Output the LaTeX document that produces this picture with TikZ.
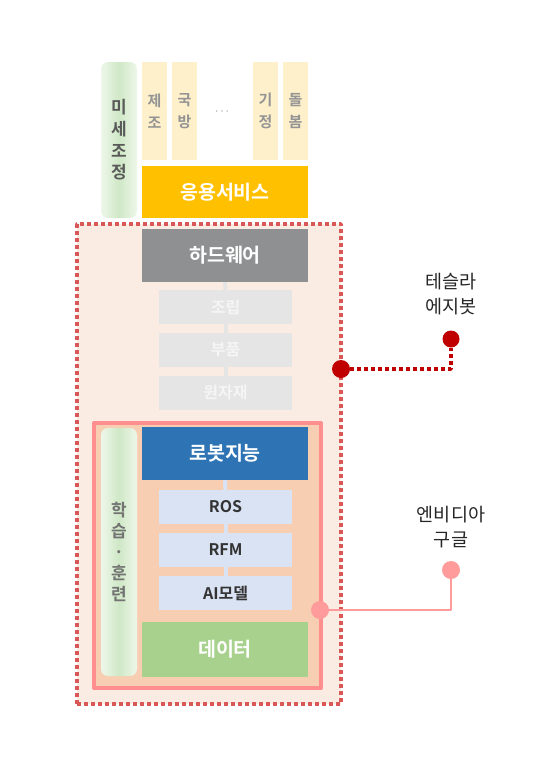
\documentclass[tikz,border=0pt]{standalone}
\usepackage{fontspec}
\newfontfamily\kr{Noto Sans CJK KR}
\newfontfamily\krb{Noto Sans CJK KR Bold}
\definecolor{zonefill}{HTML}{FBECE3}
\definecolor{zonered}{HTML}{D95757}
\definecolor{darkred}{HTML}{C00000}
\definecolor{brainfill}{HTML}{F8CEB2}
\definecolor{brainline}{HTML}{FF8E8E}
\definecolor{pinkdot}{HTML}{FF9B9B}
\definecolor{appyellow}{HTML}{FFC000}
\definecolor{colbeige}{HTML}{FEF0CA}
\definecolor{hwgray}{HTML}{8F9092}
\definecolor{subgray}{HTML}{E6E5E5}
\definecolor{aiblue}{HTML}{2E74B5}
\definecolor{subblue}{HTML}{DAE3F3}
\definecolor{datagreen}{HTML}{A9D18E}
\definecolor{pillgreen}{HTML}{CFE8C6}
\definecolor{pilledge}{HTML}{EEF7EA}

\begin{document}
\begin{tikzpicture}[
        x=1pt, y=-1pt,
        line cap=round,
        line join=round,
        box/.style={minimum width=166pt, minimum height=53pt, inner sep=0pt, text=white, font=\krb\fontsize{19.5}{22}\selectfont},
        sub/.style={minimum width=133pt, minimum height=34pt, inner sep=0pt, font=\krb\fontsize{16}{18}\selectfont},
        col/.style={fill=colbeige, minimum width=25pt, minimum height=98pt, inner sep=0pt, text=black!42, align=center, font=\krb\fontsize{15}{22}\selectfont},
        pill/.style={rounded corners=7pt, minimum width=36pt, inner sep=0pt, left color=pilledge, right color=pilledge, middle color=pillgreen, align=center},
        dot/.style={circle, inner sep=0pt, minimum size=18pt},
        tag/.style={align=center, text=black!85, font=\kr\fontsize{18.5}{25}\selectfont}
    ]
        \useasboundingbox (0,0) rectangle (548,774);

        % top: services
        \node[pill, minimum height=156pt, text=black!65, font=\krb\fontsize{17}{21.7}\selectfont] (tune) at (119,140) {미\\세\\조\\정};

        \node[col] (c1) at (154.5,111) {제\\조};
        \node[col] (c2) at (184.5,111) {국\\방};
        \node[text=black!45, font=\kr\fontsize{12}{14}\selectfont] (c3) at (222,112) {$\cdots$};
        \node[col] (c4) at (265.5,111) {기\\정};
        \node[col] (c5) at (295.5,111) {돌\\봄};

        \node[box, fill=appyellow, minimum height=52pt] (app) at (225,192) {응용서비스};

        % hardware zone
        \node[draw=zonered, fill=zonefill, line width=3.5pt, line cap=butt, dash pattern=on 4pt off 3pt, minimum width=264pt, minimum height=480pt] (zone) at (209,464) {};

        \node[box, fill=hwgray] (hw) at (225,255.5) {하드웨어};
        \node[sub, fill=subgray, text=white!96!black] (asm) at (225.5,307) {조립};
        \node[sub, fill=subgray, text=white!96!black] (part) at (225.5,350) {부품};
        \node[sub, fill=subgray, text=white!96!black] (raw) at (225.5,393) {원자재};

        \draw[subgray, line width=4pt, line cap=butt] (hw.south) -- (asm.north);
        \draw[subgray, line width=4pt, line cap=butt] (asm.south) -- (part.north);
        \draw[subgray, line width=4pt, line cap=butt] (part.south) -- (raw.north);

        % robot intelligence
        \node[draw=brainline, fill=brainfill, line width=4pt, minimum width=227pt, minimum height=265pt] (brain) at (207.5,555.5) {};

        \node[pill, minimum height=248pt, text=black!55, font=\krb\fontsize{17}{21}\selectfont] (train) at (119,552) {학\\습\\·\\훈\\련};

        \node[box, fill=aiblue] (ai) at (225,453.5) {로봇지능};
        \node[sub, fill=subblue, text=black!80] (ros) at (225.5,507) {ROS};
        \node[sub, fill=subblue, text=black!80] (rfm) at (225.5,550) {RFM};
        \node[sub, fill=subblue, text=black!80] (model) at (225.5,593) {AI모델};

        \draw[subblue, line width=4pt, line cap=butt] (ai.south) -- (ros.north);
        \draw[subblue, line width=4pt, line cap=butt] (ros.south) -- (rfm.north);
        \draw[subblue, line width=4pt, line cap=butt] (rfm.south) -- (model.north);

        \node[box, fill=datagreen, minimum height=55pt] (data) at (225,649.5) {데이터};

        % companies
        \node[tag] (tesla) at (451,294.5) {테슬라\\에지봇};
        \node[dot, fill=darkred] (hdot) at (341,369) {};
        \node[dot, fill=darkred, minimum size=17pt] (tdot) at (451,339) {};
        \draw[darkred, line width=3.5pt, line cap=butt, dash pattern=on 4pt off 3pt] (hdot) -| (tdot);

        \node[tag] (nvidia) at (451,527.5) {엔비디아\\구글};
        \node[dot, fill=pinkdot] (bdot) at (320,610) {};
        \node[dot, fill=pinkdot] (ndot) at (451,570) {};
        \draw[pinkdot, line width=2.5pt] (bdot) -| (ndot);
    \end{tikzpicture}
\end{document}
